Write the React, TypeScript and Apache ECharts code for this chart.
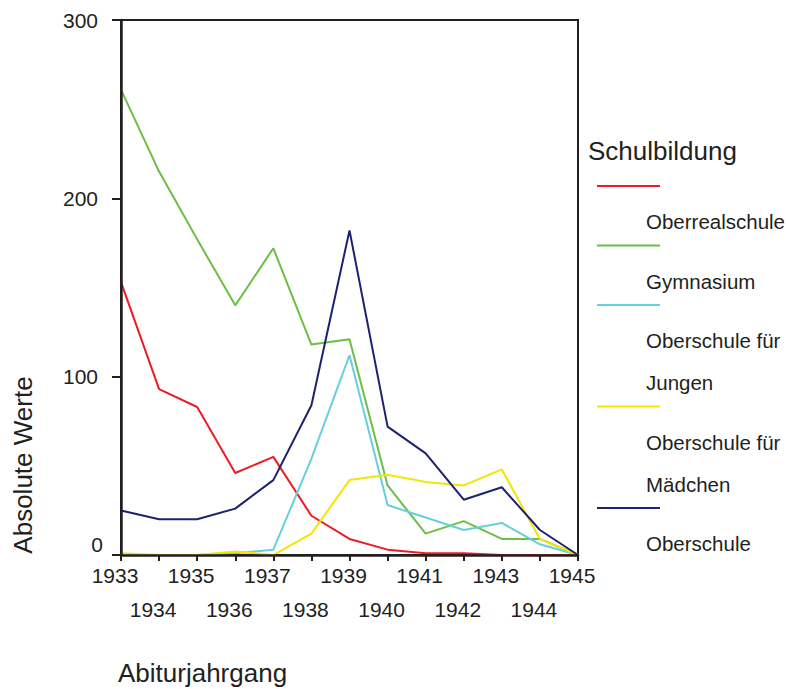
import { useEffect, useRef } from "react";
import * as echarts from "echarts";

const years = ["1933", "1934", "1935", "1936", "1937", "1938", "1939", "1940", "1941", "1942", "1943", "1944", "1945"];
const oberrealschule = [153, 93, 83, 46, 55, 22, 9, 3, 1, 1, 0, 0, 0];
const gymnasium = [261, 215, 177, 140, 172, 118, 121, 39, 12, 19, 9, 9, 0];
const oberschuleJungen = [0, 0, 0, 1, 3, 54, 112, 28, 21, 14, 18, 6, 0];
const oberschuleMaedchen = [1, 0, 0, 2, 0, 12, 42, 45, 41, 39, 48, 9, 0];
const oberschule = [25, 20, 20, 26, 42, 84, 182, 72, 57, 31, 38, 14, 0];

const seriesNames = ["Oberrealschule", "Gymnasium", "Oberschule für Jungen", "Oberschule für Mädchen", "Oberschule"];
const legendLabels = ["Oberrealschule", "Gymnasium", "Oberschule für\nJungen", "Oberschule für\nMädchen", "Oberschule"];
const seriesData = [oberrealschule, gymnasium, oberschuleJungen, oberschuleMaedchen, oberschule];
const colors = ["#ED1C24", "#6CBE45", "#67CFDC", "#F2E500", "#1E2170"];

const yMin = 0;
const yMax = 300;
const yInterval = 100;

const legendTitle = "Schulbildung";
const xTitle = "Abiturjahrgang";
const yTitle = "Absolute Werte";

const FONT = "'Liberation Sans', Arial, Helvetica, sans-serif";
const INK = "#231F20";
const TICK_FS = 21;
const LEGEND_FS = 20.5;
const TITLE_FS = 26;

export default function App() {
  const ref = useRef<HTMLDivElement>(null);

  useEffect(() => {
    if (!ref.current) return;
    const chart = echarts.init(ref.current, undefined, { renderer: "svg" });

    const graphics: any[] = [];
    graphics.push({
      type: "text",
      x: 588,
      y: 151,
      style: { text: legendTitle, fontSize: TITLE_FS, fontFamily: FONT, fill: INK, align: "left", verticalAlign: "middle" },
    });
    let lineY = 186;
    legendLabels.forEach((lbl, i) => {
      graphics.push({
        type: "line",
        shape: { x1: 597, y1: lineY, x2: 660, y2: lineY },
        style: { stroke: colors[i], lineWidth: 2 },
      });
      const firstCenter = lineY + 35.5;
      const nLines = lbl.split("\n").length;
      graphics.push({
        type: "text",
        x: 646,
        y: firstCenter - 21,
        style: { text: lbl, fontSize: LEGEND_FS, fontFamily: FONT, fill: INK, align: "left", verticalAlign: "top", lineHeight: 42 },
      });
      const lastCenter = firstCenter + (nLines - 1) * 42;
      lineY = lastCenter + 24;
    });
    graphics.push({
      type: "text",
      x: 118,
      y: 673,
      style: { text: xTitle, fontSize: TITLE_FS, fontFamily: FONT, fill: INK, align: "left", verticalAlign: "middle" },
    });
    graphics.push({
      type: "text",
      x: 22.5,
      y: 465,
      rotation: Math.PI / 2,
      style: { text: yTitle, fontSize: TITLE_FS, fontFamily: FONT, fill: INK, align: "center", verticalAlign: "middle" },
    });

    chart.setOption({
      animation: false,
      backgroundColor: "#ffffff",
      grid: {
        left: 121,
        right: 209,
        top: 20,
        bottom: 134,
        show: true,
        borderColor: INK,
        borderWidth: 2,
        backgroundColor: "transparent",
      },
      xAxis: {
        type: "category",
        data: years,
        boundaryGap: false,
        z: 10,
        axisLine: { lineStyle: { color: INK, width: 2.5 } },
        axisTick: { show: true, length: 6, interval: 0, lineStyle: { color: INK, width: 2 } },
        axisLabel: {
          interval: 0,
          fontSize: TICK_FS,
          fontFamily: FONT,
          color: INK,
          lineHeight: 34.5,
          margin: 3,
          padding: [0, 12, 0, 0],
          formatter: (v: string, i: number) => (i % 2 === 1 ? "\n" + v : v),
        },
        splitLine: { show: false },
      },
      yAxis: {
        type: "value",
        min: yMin,
        max: yMax,
        interval: yInterval,
        z: 10,
        axisLine: { show: true, lineStyle: { color: INK, width: 2.5 } },
        axisTick: { show: true, length: 9, lineStyle: { color: INK, width: 2 } },
        splitLine: { show: false },
        axisLabel: {
          margin: 18,
          fontSize: TICK_FS,
          fontFamily: FONT,
          color: INK,
          formatter: (v: number) => (v === 0 ? "{z|0}" : "{n|" + v + "}"),
          rich: {
            z: { fontSize: TICK_FS, fontFamily: FONT, color: INK, padding: [0, 0, 22, 0] },
            n: { fontSize: TICK_FS, fontFamily: FONT, color: INK, padding: [0, 5, 0, 0] },
          },
        },
      },
      series: seriesData.map((d, i) => ({
        name: seriesNames[i],
        type: "line",
        data: d,
        symbol: "none",
        z: 2,
        lineStyle: { color: colors[i], width: 2 },
        itemStyle: { color: colors[i] },
      })),
      graphic: graphics,
    });

    return () => {
      chart.dispose();
    };
  }, []);

  return <div ref={ref} style={{ position: "fixed", left: 0, top: 0, width: 787, height: 689 }} />;
}
